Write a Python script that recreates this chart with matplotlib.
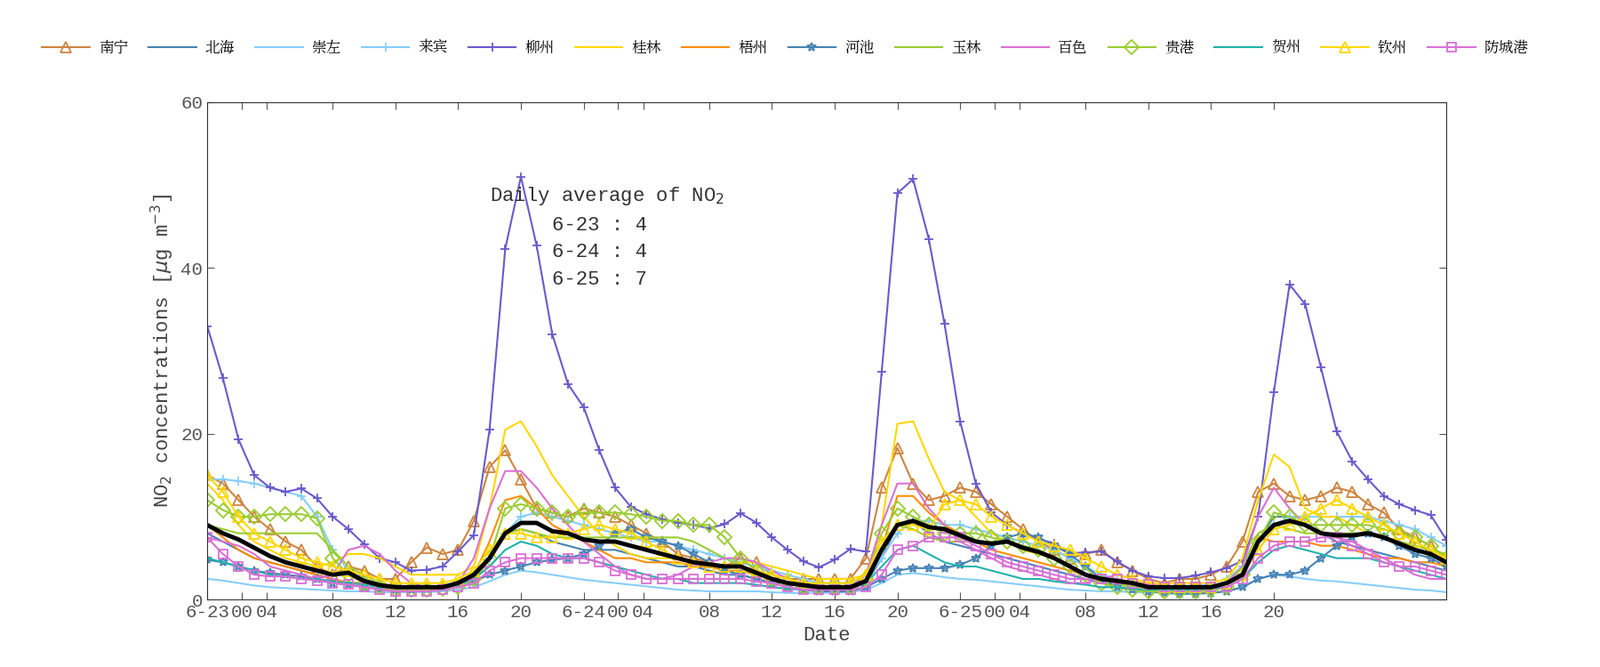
import matplotlib
matplotlib.use("Agg")
import matplotlib.pyplot as plt
from matplotlib import font_manager
import numpy as np

hours = np.arange(80)

nanning = [15,14,12,10,8.5,7,6,4,3,4,3.5,2.5,2.5,4.5,6.3,5.5,6,9.5,16,18,14.5,11,10.5,10,11,10.5,10,9,8,7,5.5,5,4.5,4,5,4.5,3,2.5,2.5,2.5,2.5,2.5,5,13.5,18.3,14,12,12.5,13.5,13,11.5,10,8.5,7,6,5,5.5,6,4.5,3.5,2.5,2,2.5,2.5,3,4,7,13,14,12.5,12,12.5,13.5,13,11.5,10.5,8.5,7.5,6.5,5]
beihai = [8,7,6,5,4.5,4,3.5,3,2.5,2,2,1.5,1.5,1.5,1.5,1.5,2,3,5,8,8.5,8,7,6.5,6,6,6,5.5,5,4.5,4,4,3.5,3,3,2.5,2,2,1.5,1.5,1.5,1.5,2,5,9,9.5,8,7,6.5,6,5.5,5,4.5,4,3.5,3,2.5,2,2,1.5,1.5,1.5,1.5,1.5,1.5,2,3,7,10,10,9,8,7,6.5,6,5.5,5,4.5,4,3.5]
chongzuo = [2.5,2.3,2,1.7,1.5,1.4,1.3,1.2,1.1,1,1,0.9,0.9,0.9,0.9,1,1.2,1.5,2.2,3,3.5,3.3,3,2.7,2.4,2.2,2,1.8,1.6,1.4,1.2,1.1,1,1,1,1,0.9,0.8,0.8,0.8,0.8,0.9,1.2,2,3,3.2,3,2.7,2.5,2.4,2.2,2,1.8,1.6,1.4,1.2,1.1,1,1,0.9,0.9,0.9,0.9,0.9,0.9,1,1.5,2.5,3,2.8,2.5,2.3,2.2,2,1.8,1.6,1.4,1.2,1.1,0.9]
laibin = [14.5,14.5,14.3,14,13.5,13,12.5,10,6,3.5,2.5,2,1.5,1.5,1.5,1.5,2,3,5,8,10,10.5,10,9.5,9,8.5,8,7.5,7,7,6.5,6,5.5,5,4.5,4,3.5,3,2.5,2,2,2,2.5,5,8,9.5,9.5,9,9,8.5,8,7.5,7,6.5,6,5,4,3,2.5,2,1.5,1.5,1.5,1.5,2,2.5,4,7,9,10,10,10,10,10,10,9.5,9,8.5,7.5,6.5]
liuzhou = [33,26.7,19.3,15,13.5,13,13.4,12.2,10,8.5,6.7,5,4.5,3.5,3.6,4,5.8,7.8,20.5,42.3,51,42.7,32,26,23.2,18,13.5,11.2,10.3,9.7,9.3,9,8.6,9.1,10.4,9.3,7.5,6,4.6,3.9,4.8,6.1,5.8,27.5,49,50.7,43.5,33.3,21.5,14,10.5,9,8,7.3,6.8,5.6,5.7,5.8,4.6,3.5,2.8,2.6,2.6,2.9,3.3,3.8,4.7,10,25,38,35.6,28,20.3,16.7,14.5,12.5,11.5,10.8,10.2,7.2]
guilin = [14,12,9,7,6,5,4.5,4,4.5,5.5,5.5,5,4,3,3,3,3,4,11,20.5,21.5,18.5,15,12.5,10,8,6.5,5.5,5,5,5,4.5,4,4,4.5,4.5,4,3.5,3,2.5,2.5,2.5,3,9,21.2,21.5,17,13,12,10,8,7,6,5.5,5,4,3,2.5,2.5,2,2,2,2,2,2,2.5,5,12,17.5,16,11,10,10,9,8,7.5,7,6.5,6,5]
wuzhou = [9,7.5,6,5,4.5,4,3.5,3,2.5,2,2,1.5,1.5,1.5,1.5,1.5,2,3,7,12,12.5,11,9,8,7,6,5,5,4.5,4.5,4.5,4,4,3.5,3.5,3,2.5,2,2,1.5,1.5,1.5,2,6,12.5,12.5,10.5,9,8,7,6,5.5,5,4.5,4,3.5,3,2.5,2,2,1.5,1.5,1.5,1.5,1.5,2,3,7.5,7,7,7,6.5,6.5,6,5.5,5,5,4.5,4.5,4]
hechi = [4.8,4.5,4,3.5,3.2,3,2.8,2.5,2,1.8,1.5,1.3,1.2,1.2,1.3,1.5,1.8,2.2,3,3.5,4,4.5,4.8,5,5.5,6.5,8,8.5,7.5,7,6.5,5.5,4.5,3.5,3,2.5,2,1.5,1.2,1,1,1,1.5,2.5,3.5,3.8,3.8,3.8,4.2,5,6.5,7.5,8,7.5,6.5,5.5,4,2.5,1.5,1.2,1,0.8,0.7,0.7,0.8,1,1.5,2.5,3,3,3.5,5,6.5,7.5,8,7.5,6.5,5.5,5,4]
yulin = [9,8.5,8,8,8,8,8,8,6,4,3,2,1.5,1.5,1.5,1.5,1.5,2,5,8,8.5,8,7.5,7.5,7.5,7.5,7.5,7.5,7.5,7.5,7.5,7,6,5,4,3,2.5,2,1.5,1.5,1.5,1.5,2,6,9,8.5,7.5,7,7,7,7,7,6.5,6,5,4,3,2.5,2,1.5,1.5,1.5,1.5,1.5,1.5,2,4,8,9,8.5,8,8,8,8,8,7.5,7,6.5,6,5.5]
baise = [7.5,7,6.5,5.5,4,3.5,3,2.5,3,6,6.5,5.5,3.5,2,1.5,1.5,2,5,11,15.5,15.5,13.5,11,9,7,5.5,4,3,2.5,2.5,3,4,4.5,5,5,4.5,3.5,2.5,2,1.5,1.5,1.5,3,9,14,14,11,9,7,6,5,4,3.5,3,2.5,2,2,2.5,3,2.5,2,1.5,1.5,1.5,1.5,2,4,10,13.5,11,9,8,7.5,7,6,5,4,3,2.5,2.5]
guigang = [12,10.8,10,10,10.3,10.3,10.3,9.8,5,3,2,1.5,1.2,1.2,1.2,1.3,1.5,2.5,5,11,11.5,11,10.5,10,10.5,10.5,10.5,10.3,10,9.5,9.5,9,9,7.5,5,3.5,2.5,2,1.5,1.5,1.5,1.5,2.5,8,11,10,9,8,8,8,7.5,7,6.5,6,5,4,3,2,1.5,1.2,1,1,1,1,1.2,1.5,3,7,10.5,10,9,9,9,9,9,8.5,8,7.5,6.5,5]
hezhou = [5,4.5,4,3.5,3,2.8,2.5,2.5,2.2,2,1.8,1.5,1.5,1.5,1.5,1.5,1.8,2.5,4,6,7,6.5,5.5,5,5,4.5,4,3.5,3,2.5,2.5,2,2,2,2,1.8,1.5,1.3,1.2,1.2,1.2,1.3,2,4,6,6.5,5.5,4.5,4,4,3.5,3,2.5,2.5,2.2,2,1.8,1.5,1.5,1.3,1.2,1.2,1.2,1.2,1.3,1.5,2.5,4.5,6,6.5,6,5.5,5,5,5,4.5,4,3.5,3,2.5]
qinzhou = [15,13,10,8,7,6,5,4.5,4,3.5,3,2.5,2,2,2,2,2.5,3.5,6,8,8,7.5,7.5,8,8.5,9,8.5,8,7,6,5,4.5,4,4,4,3.5,3,2.5,2,2,2,2,3,7,9,9,8.5,11.5,12,11.5,10,9,8,7,6.5,6,5,4,3,2.5,2,1.5,1.5,1.5,1.5,2,3,6,8.5,9,10,11,12,11,10,9,8,7,6,5]
fangchenggang = [7.5,5.5,4,3,2.8,2.8,2.5,2.3,2,1.8,1.5,1.2,1,1,1,1.2,1.5,2,3.5,4.5,5,5,5,5,5,4.5,3.5,3,2.5,2.5,2.5,2.5,2.5,2.5,2.5,2.2,2,1.5,1.2,1.2,1.2,1.2,1.5,3,6,6.5,7.5,7.5,7.5,6.5,5.5,4.5,4,3.5,3,2.5,2.5,2.5,2.5,2,1.8,1.5,1.5,1.5,1.5,1.5,2.5,5,6.5,7,7,7.5,7.5,6.5,5.5,4.5,4,4,3.5,3]

series = [
    ("南宁", nanning, "#CD853F", "^"),
    ("北海", beihai, "#4682B4", None),
    ("崇左", chongzuo, "#87CEFA", None),
    ("来宾", laibin, "#87CEFA", "+"),
    ("柳州", liuzhou, "#6A5ACD", "+"),
    ("桂林", guilin, "#FFD700", None),
    ("梧州", wuzhou, "#FF8C00", None),
    ("河池", hechi, "#4682B4", "*"),
    ("玉林", yulin, "#9ACD32", None),
    ("百色", baise, "#DA70D6", None),
    ("贵港", guigang, "#9ACD32", "D"),
    ("贺州", hezhou, "#20B2AA", None),
    ("钦州", qinzhou, "#FFD700", "^"),
    ("防城港", fangchenggang, "#DA70D6", "s"),
]

tick_pos = [0, 2.2, 3.8, 8, 12, 16, 20, 24, 26.2, 27.8, 32, 36, 40, 44, 48, 50.2, 51.8, 56, 60, 64, 68]
tick_lab = ["6-23", "00", "04", "08", "12", "16", "20", "6-24", "00", "04", "08", "12", "16", "20", "6-25", "00", "04", "08", "12", "16", "20"]

cands = [f for f in font_manager.fontManager.ttflist if "CJK" in f.name]
def score(f):
    s = 0
    if "SC" in f.name: s -= 10
    if f.weight in (400, "normal", "regular"): s -= 5
    if "Regular" in f.fname: s -= 5
    return s
cands.sort(key=score)
cjk = cands[0].fname if cands else None

mono = "Liberation Mono"
fig = plt.figure(figsize=(18, 7.5), dpi=100)
ax = fig.add_axes([0.1295, 0.101, 0.7745, 0.746])
for name, vals, col, mk in series:
    ax.plot(hours, vals, color=col, lw=1.5, marker=mk, ms=8 if mk in ("^", "D") else 7,
            mfc="none", mew=1.3, label=name)
avg = np.median([s[1] for s in series], axis=0)
ax.plot(hours, avg, color="black", lw=3.5)

ax.set_xlim(0, 79)
ax.set_ylim(0, 60)
ax.set_yticks([0, 20, 40, 60])
ax.set_xticks(tick_pos)
ax.set_xticklabels(tick_lab)
ax.tick_params(direction="in", labelsize=15, colors="#555555", length=6, top=True, right=True)
for lab in ax.get_xticklabels() + ax.get_yticklabels():
    lab.set_fontfamily(mono)
for sp in ax.spines.values():
    sp.set_color("#333333")
ax.set_xlabel("Date", fontsize=16, family=mono, color="#444444")
ax.set_ylabel(r"NO$_2$ concentrations [$\mu$g m$^{-3}$]", fontsize=16, family=mono, color="#444444")
ax.text(18, 50, "Daily average of NO$_2$", fontsize=16, family=mono, color="#333333", va="top")
ax.text(22, 46.3, "6-23 : 4\n6-24 : 4\n6-25 : 7", fontsize=16, family=mono,
        color="#333333", va="top", linespacing=1.6)

prop = font_manager.FontProperties(fname=cjk, size=12) if cjk else font_manager.FontProperties(family="Noto Sans CJK SC", size=12)
fig.legend(loc="upper left", bbox_to_anchor=(0.018, 0.96), ncol=14, frameon=False,
           prop=prop, handlelength=3.2, columnspacing=1.4, handletextpad=0.6)
fig.savefig("out.png", dpi=100)
